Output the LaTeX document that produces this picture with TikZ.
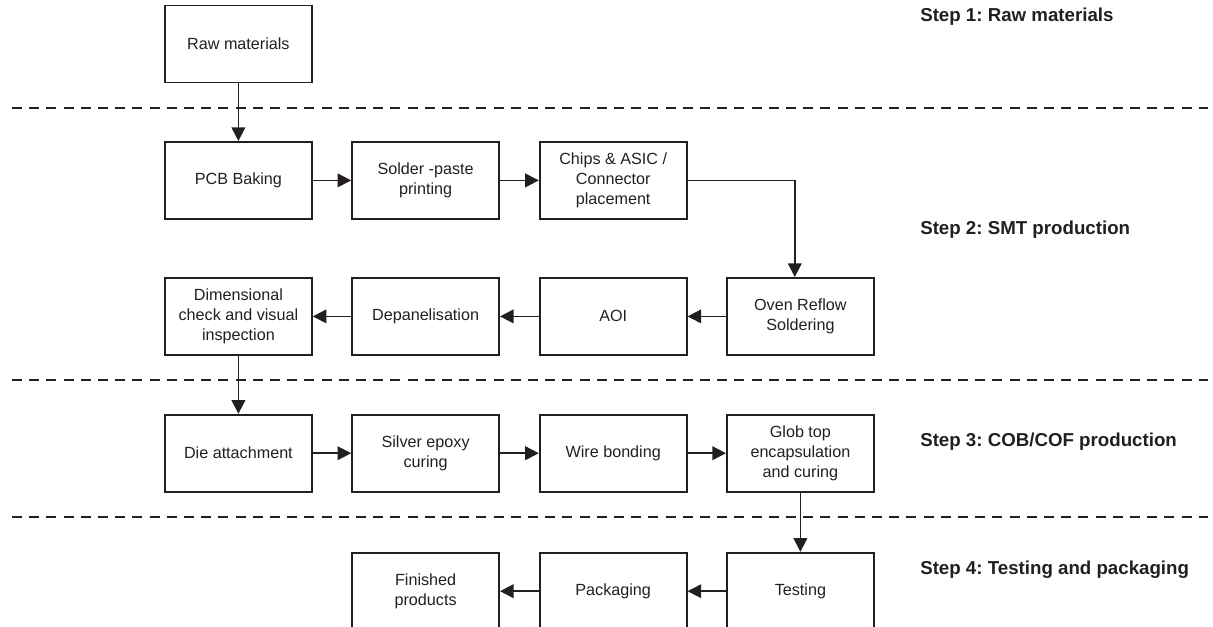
\documentclass[tikz,border=0pt]{standalone}
\usepackage{fontspec}
\setmainfont{Liberation Sans}
\usepackage{xcolor}
\usepackage{tikz}
\usetikzlibrary{arrows.meta}
\definecolor{ink}{RGB}{35,31,32}
\frenchspacing

\begin{document}
\begin{tikzpicture}[color=ink,
  box/.style={rectangle,draw,line width=1.25pt,minimum width=3.675cm,minimum height=1.925cm,
    align=center,font=\fontsize{11.5}{14}\selectfont,inner sep=2pt},
  arr/.style={line width=1.2pt,-{Triangle[length=0.34cm,width=0.34cm]}},
  sep/.style={line width=2pt,dash pattern=on 0.25cm off 0.18cm},
  steplabel/.style={anchor=west,font=\fontsize{13.3}{16}\selectfont\bfseries,inner sep=0pt}]
\useasboundingbox (0,0) rectangle (30.325,-15.675);
\clip (0,0) rectangle (30.325,-15.675);
% step 1
\node (1) at ( 5.96,-1.1) [box] {Raw materials};
% step 2
\node (2) at ( 5.96,-4.51) [box] {PCB Baking};
\node (3) at (10.64,-4.51) [box] {Solder -paste\\printing};
\node (4) at (15.33,-4.51) [box] {Chips \& ASIC /\\Connector\\placement};
\node (5) at (20.01,-7.91) [box] {Oven Reflow\\Soldering};
\node (6) at (15.33,-7.91) [box] {AOI};
\node (7) at (10.64,-7.91) [box] {Depanelisation};
\node (8) at ( 5.96,-7.91) [box] {Dimensional\\check and visual\\inspection};
% step 3
\node (9) at ( 5.96,-11.33) [box] {Die attachment};
\node (10) at (10.64,-11.33) [box] {Silver epoxy\\curing};
\node (11) at (15.33,-11.33) [box] {Wire bonding};
\node (12) at (20.01,-11.33) [box] {Glob top\\encapsulation\\and curing};
% step 4
\node (13) at (20.01,-14.78) [box] {Testing};
\node (14) at (15.33,-14.78) [box] {Packaging};
\node (15) at (10.64,-14.78) [box] {Finished\\products};
% labels on the right
\node (s1) at (23,-0.42) [steplabel] {Step 1: Raw materials};
\node (s2) at (23,-5.75) [steplabel] {Step 2: SMT production};
\node (s3) at (23,-11.05) [steplabel] {Step 3: COB/COF production};
\node (s4) at (23,-14.25) [steplabel] {Step 4: Testing and packaging};
% dashed separators
\draw[sep] (0.3,-2.7) -- (30.2,-2.7);
\draw[sep] (0.3,-9.5) -- (30.2,-9.5);
\draw[sep] (0.3,-12.925) -- (30.2,-12.925);
% flow
\draw[arr] (1) -- (2);
\draw[arr] (2) -- (3);
\draw[arr] (3) -- (4);
\draw[arr] (4.east) -| ([xshift=-0.14cm]5.north);
\draw[arr] (5) -- (6);
\draw[arr] (6) -- (7);
\draw[arr] (7) -- (8);
\draw[arr] (8) -- (9);
\draw[arr] (9) -- (10);
\draw[arr] (10) -- (11);
\draw[arr] (11) -- (12);
\draw[arr] (12) -- (13);
\draw[arr] (13) -- (14);
\draw[arr] (14) -- (15);
\end{tikzpicture}
\end{document}
